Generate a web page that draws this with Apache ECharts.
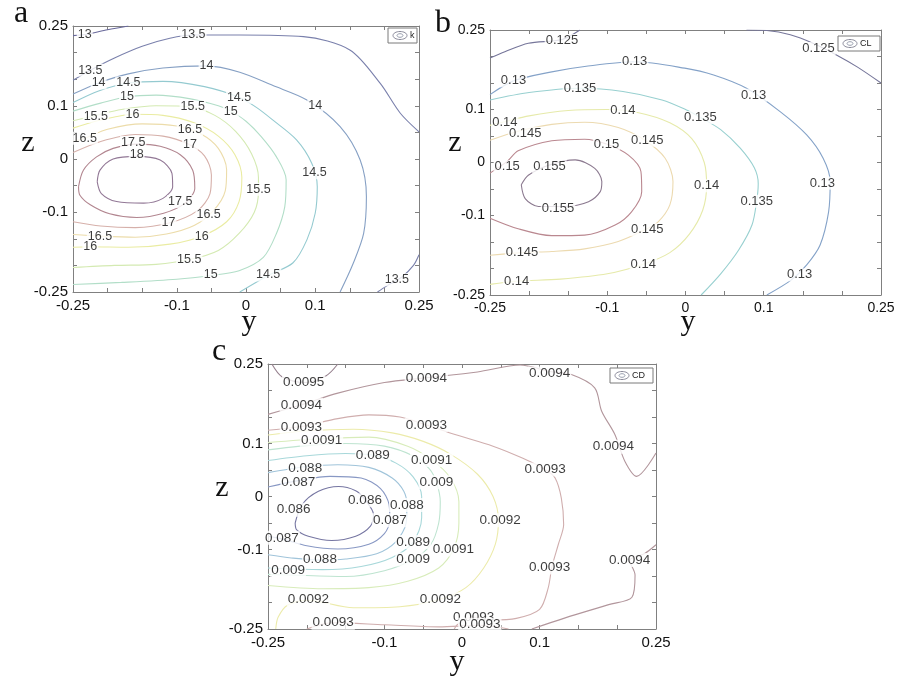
<!DOCTYPE html>
<html>
<head>
<meta charset="utf-8">
<title>k / CL / CD contours</title>
<script src="https://cdn.jsdelivr.net/npm/echarts/dist/echarts.min.js"></script>
<style>
  html, body { margin: 0; padding: 0; background: #fff; }
  #main { width: 901px; height: 680px; }
</style>
</head>
<body>
<div id="main"></div>
<script>
// contour lines: [level, [[y, z], ...]]
const kContours = [
  [13,   [[-0.25,0.232],[-0.232,0.234],[-0.2,0.243],[-0.17,0.25]]],
  [13.5, [[-0.25,0.148],[-0.225,0.167],[-0.19,0.19],[-0.15,0.212],[-0.11,0.227],[-0.076,0.233],[-0.009,0.233],[0.083,0.23],[0.15,0.205],[0.194,0.142],[0.223,0.086],[0.25,0.051]]],
  [13.5, [[0.19,-0.25],[0.203,-0.239],[0.225,-0.222],[0.242,-0.2],[0.25,-0.18]]],
  [14,   [[-0.25,0.122],[-0.213,0.143],[-0.17,0.16],[-0.12,0.171],[-0.057,0.175],[-0.009,0.163],[0.039,0.138],[0.088,0.111],[0.136,0.061],[0.165,-0.002],[0.174,-0.071],[0.17,-0.14],[0.155,-0.196],[0.136,-0.25]]],
  [14.5, [[-0.25,0.106],[-0.213,0.128],[-0.17,0.143],[-0.12,0.146],[-0.06,0.136],[-0.01,0.116],[0.015,0.097],[0.039,0.073],[0.073,0.036],[0.095,-0.008],[0.103,-0.052],[0.1,-0.102],[0.088,-0.152],[0.068,-0.195],[0.032,-0.219],[-0.009,-0.25]]],
  [15,   [[-0.25,0.09],[-0.21,0.105],[-0.172,0.117],[-0.13,0.12],[-0.08,0.113],[-0.04,0.1],[-0.022,0.09],[0,0.071],[0.022,0.042],[0.044,0.004],[0.058,-0.039],[0.056,-0.09],[0.044,-0.14],[0.025,-0.185],[-0.01,-0.21],[-0.051,-0.219],[-0.1,-0.226],[-0.18,-0.232],[-0.25,-0.236]]],
  [15.5, [[-0.25,0.072],[-0.217,0.082],[-0.18,0.093],[-0.13,0.1],[-0.08,0.098],[-0.045,0.082],[-0.015,0.052],[0.008,0.01],[0.018,-0.035],[0.018,-0.06],[0.012,-0.1],[-0.01,-0.14],[-0.04,-0.172],[-0.081,-0.189],[-0.13,-0.198],[-0.19,-0.2],[-0.25,-0.204]]],
  [16,   [[-0.25,0.058],[-0.22,0.07],[-0.19,0.079],[-0.164,0.084],[-0.12,0.082],[-0.075,0.068],[-0.04,0.043],[-0.016,0.008],[-0.006,-0.035],[-0.01,-0.08],[-0.028,-0.118],[-0.064,-0.145],[-0.11,-0.16],[-0.17,-0.166],[-0.225,-0.165],[-0.25,-0.166]]],
  [16.5, [[-0.25,0.033],[-0.233,0.039],[-0.2,0.056],[-0.15,0.066],[-0.1,0.062],[-0.065,0.047],[-0.04,0.02],[-0.028,-0.02],[-0.03,-0.06],[-0.047,-0.097],[-0.075,-0.125],[-0.115,-0.141],[-0.16,-0.147],[-0.211,-0.145],[-0.25,-0.142]]],
  [17,   [[-0.25,0.012],[-0.21,0.033],[-0.16,0.046],[-0.12,0.043],[-0.085,0.029],[-0.06,0.006],[-0.05,-0.03],[-0.052,-0.065],[-0.07,-0.097],[-0.11,-0.12],[-0.16,-0.129],[-0.21,-0.126],[-0.25,-0.118]]],
  [17.5, [[-0.242,-0.052],[-0.235,-0.021],[-0.216,0.004],[-0.192,0.02],[-0.158,0.028],[-0.124,0.024],[-0.095,0.008],[-0.077,-0.021],[-0.074,-0.055],[-0.088,-0.083],[-0.119,-0.102],[-0.158,-0.11],[-0.197,-0.103],[-0.225,-0.086],[-0.24,-0.068],[-0.242,-0.052]]],
  [18,   [[-0.215,-0.043],[-0.211,-0.021],[-0.192,0],[-0.158,0.005],[-0.124,-0.002],[-0.107,-0.027],[-0.106,-0.052],[-0.12,-0.074],[-0.148,-0.083],[-0.187,-0.08],[-0.209,-0.065],[-0.215,-0.043]]]
];
// inline contour labels: [text, y, z]
const kLabels = [
  ['13',-0.233,0.233],['13.5',-0.076,0.233],['13.5',-0.225,0.167],['14',-0.057,0.175],
  ['14',-0.213,0.143],['14.5',-0.170,0.143],['15',-0.172,0.117],['14.5',-0.010,0.116],
  ['15.5',-0.077,0.098],['15',-0.022,0.090],['14',0.100,0.100],['15.5',-0.217,0.080],
  ['16',-0.164,0.083],['16.5',-0.081,0.055],['16.5',-0.233,0.039],['17.5',-0.163,0.031],
  ['17',-0.081,0.028],['18',-0.158,0.008],['14.5',0.099,-0.026],['15.5',0.018,-0.057],
  ['17.5',-0.095,-0.080],['16.5',-0.054,-0.105],['17',-0.112,-0.120],['16.5',-0.211,-0.145],
  ['16',-0.064,-0.145],['16',-0.225,-0.165],['15.5',-0.082,-0.189],['15',-0.051,-0.218],
  ['14.5',0.032,-0.218],['13.5',0.218,-0.227]
];

const clContours = [
  [0.125, [[-0.25,0.197],[-0.231,0.209],[-0.201,0.225],[-0.158,0.232],[-0.135,0.25]]],
  [0.125, [[0.078,0.25],[0.104,0.249],[0.134,0.241],[0.163,0.225],[0.193,0.203],[0.22,0.18],[0.25,0.15]]],
  [0.13,  [[-0.25,0.128],[-0.22,0.154],[-0.171,0.171],[-0.129,0.181],[-0.065,0.19],[-0.001,0.178],[0.036,0.165],[0.078,0.14],[0.121,0.096],[0.155,0.052],[0.176,0.008],[0.185,-0.036],[0.183,-0.093],[0.172,-0.156],[0.155,-0.193],[0.135,-0.222],[0.104,-0.25]]],
  [0.135, [[-0.25,0.118],[-0.2,0.132],[-0.135,0.14],[-0.08,0.134],[-0.03,0.118],[0,0.1],[0.019,0.085],[0.045,0.062],[0.07,0.027],[0.088,-0.01],[0.093,-0.04],[0.091,-0.073],[0.085,-0.118],[0.068,-0.165],[0.045,-0.21],[0.02,-0.25]]],
  [0.14,  [[-0.25,0.07],[-0.231,0.077],[-0.2,0.088],[-0.15,0.098],[-0.1,0.1],[-0.06,0.094],[-0.02,0.075],[0.008,0.045],[0.024,0],[0.027,-0.044],[0.022,-0.09],[0.005,-0.135],[-0.02,-0.17],[-0.054,-0.192],[-0.1,-0.21],[-0.16,-0.22],[-0.216,-0.224],[-0.25,-0.23]]],
  [0.145, [[-0.25,0.042],[-0.214,0.059],[-0.171,0.072],[-0.129,0.076],[-0.086,0.066],[-0.052,0.042],[-0.026,0.008],[-0.016,-0.036],[-0.02,-0.08],[-0.035,-0.112],[-0.052,-0.127],[-0.086,-0.149],[-0.129,-0.163],[-0.171,-0.168],[-0.21,-0.17],[-0.25,-0.175]]],
  [0.15,  [[-0.25,-0.02],[-0.228,0.002],[-0.214,0.022],[-0.171,0.041],[-0.129,0.044],[-0.101,0.035],[-0.073,0.014],[-0.057,-0.017],[-0.056,-0.055],[-0.069,-0.093],[-0.09,-0.118],[-0.129,-0.137],[-0.171,-0.138],[-0.214,-0.125],[-0.25,-0.105]]],
  [0.155, [[-0.21,-0.042],[-0.201,-0.024],[-0.175,-0.005],[-0.141,0.005],[-0.116,-0.011],[-0.107,-0.036],[-0.109,-0.055],[-0.124,-0.074],[-0.154,-0.083],[-0.188,-0.083],[-0.205,-0.068],[-0.21,-0.042]]]
];
const clLabels = [
  ['0.125',-0.158,0.230],['0.125',0.170,0.215],['0.13',-0.065,0.190],['0.13',-0.220,0.154],
  ['0.135',-0.135,0.140],['0.13',0.087,0.127],['0.14',-0.080,0.098],['0.135',0.019,0.085],
  ['0.14',-0.231,0.075],['0.145',-0.205,0.055],['0.15',-0.101,0.035],['0.145',-0.049,0.042],
  ['0.15',-0.228,-0.008],['0.155',-0.174,-0.008],['0.14',0.027,-0.044],['0.13',0.175,-0.039],
  ['0.135',0.091,-0.073],['0.155',-0.163,-0.087],['0.145',-0.049,-0.127],['0.145',-0.209,-0.170],
  ['0.14',-0.054,-0.192],['0.13',0.146,-0.212],['0.14',-0.216,-0.224]
];

const cdContours = [
  [0.0086, [[-0.215,-0.05],[-0.206,-0.015],[-0.185,0.01],[-0.159,0.019],[-0.137,0.011],[-0.125,-0.006],[-0.114,-0.034],[-0.118,-0.056],[-0.137,-0.075],[-0.168,-0.083],[-0.198,-0.075],[-0.213,-0.063],[-0.215,-0.05]]],
  [0.0087, [[-0.25,0.018],[-0.211,0.03],[-0.17,0.038],[-0.13,0.035],[-0.105,0.015],[-0.094,-0.015],[-0.093,-0.045],[-0.1,-0.07],[-0.12,-0.09],[-0.16,-0.099],[-0.2,-0.093],[-0.232,-0.08],[-0.25,-0.075]]],
  [0.0088, [[-0.25,0.045],[-0.202,0.056],[-0.16,0.06],[-0.12,0.055],[-0.09,0.035],[-0.075,0.01],[-0.071,-0.016],[-0.072,-0.05],[-0.085,-0.085],[-0.11,-0.108],[-0.15,-0.118],[-0.183,-0.12],[-0.22,-0.116],[-0.25,-0.11]]],
  [0.0089, [[-0.25,0.068],[-0.2,0.077],[-0.15,0.081],[-0.115,0.078],[-0.085,0.063],[-0.063,0.037],[-0.052,0],[-0.052,-0.04],[-0.063,-0.086],[-0.09,-0.115],[-0.13,-0.132],[-0.18,-0.138],[-0.25,-0.135]]],
  [0.009,  [[-0.25,0.088],[-0.2,0.096],[-0.15,0.1],[-0.1,0.095],[-0.062,0.076],[-0.042,0.052],[-0.033,0.027],[-0.028,-0.01],[-0.03,-0.05],[-0.04,-0.09],[-0.063,-0.119],[-0.1,-0.14],[-0.15,-0.151],[-0.224,-0.148],[-0.25,-0.147]]],
  [0.0091, [[-0.25,0.102],[-0.181,0.109],[-0.12,0.112],[-0.07,0.095],[-0.039,0.069],[-0.015,0.035],[-0.004,-0.01],[-0.004,-0.05],[-0.011,-0.1],[-0.03,-0.135],[-0.07,-0.16],[-0.12,-0.172],[-0.18,-0.174],[-0.25,-0.168]]],
  [0.0092, [[-0.25,0.116],[-0.2,0.124],[-0.14,0.127],[-0.09,0.12],[-0.05,0.104],[-0.015,0.08],[0.02,0.042],[0.04,0],[0.047,-0.045],[0.043,-0.09],[0.028,-0.135],[0.005,-0.172],[-0.028,-0.194],[-0.08,-0.208],[-0.14,-0.21],[-0.198,-0.196],[-0.225,-0.205],[-0.237,-0.228],[-0.24,-0.25]]],
  [0.0093, [[-0.25,0.125],[-0.207,0.132],[-0.16,0.147],[-0.12,0.154],[-0.08,0.15],[-0.046,0.135],[-0.009,0.117],[0.04,0.095],[0.077,0.073],[0.107,0.051],[0.12,0.035],[0.128,-0.003],[0.131,-0.053],[0.124,-0.091],[0.116,-0.132],[0.111,-0.173],[0.1,-0.213],[0.07,-0.23],[0.038,-0.233],[0.015,-0.228],[-0.005,-0.24],[-0.01,-0.25]]],
  [0.0093, [[-0.2,-0.25],[-0.166,-0.238],[-0.1,-0.242],[-0.03,-0.246],[0.023,-0.243],[0.06,-0.25]]],
  [0.0094, [[-0.25,0.155],[-0.207,0.173],[-0.16,0.195],[-0.1,0.215],[-0.046,0.224],[0.02,0.235],[0.075,0.248],[0.113,0.236],[0.141,0.23],[0.171,0.205],[0.18,0.161],[0.197,0.117],[0.21,0.066],[0.225,0.038],[0.25,0.082]]],
  [0.0094, [[0.09,-0.25],[0.133,-0.229],[0.189,-0.204],[0.219,-0.19],[0.223,-0.148],[0.216,-0.121],[0.236,-0.107],[0.25,-0.091]]],
  [0.0095, [[-0.245,0.25],[-0.232,0.226],[-0.204,0.215],[-0.175,0.228],[-0.16,0.25]]]
];
const cdLabels = [
  ['0.0095',-0.204,0.215],['0.0094',-0.046,0.223],['0.0094',0.113,0.232],['0.0094',-0.207,0.173],
  ['0.0093',-0.207,0.130],['0.0093',-0.046,0.135],['0.0091',-0.181,0.107],['0.0094',0.195,0.094],
  ['0.089',-0.115,0.078],['0.0091',-0.039,0.069],['0.0093',0.107,0.051],['0.088',-0.202,0.054],
  ['0.087',-0.211,0.027],['0.009',-0.033,0.027],['0.086',-0.125,-0.007],['0.088',-0.071,-0.016],
  ['0.086',-0.217,-0.025],['0.087',-0.093,-0.045],['0.0092',0.049,-0.045],['0.087',-0.232,-0.078],
  ['0.089',-0.063,-0.086],['0.0091',-0.011,-0.100],['0.088',-0.183,-0.119],['0.009',-0.063,-0.119],
  ['0.0094',0.216,-0.120],['0.0093',0.113,-0.134],['0.009',-0.224,-0.140],['0.0092',-0.198,-0.194],
  ['0.0092',-0.028,-0.194],['0.0093',-0.166,-0.238],['0.0093',0.015,-0.227],['0.0093',0.023,-0.242]
];

const tickShown = [-0.25, -0.1, 0, 0.1, 0.25];

// line colours per level (faded jet-like map)
const kColors = {13:'#68689a',13.5:'#7a80ac',14:'#86a0c4',14.5:'#94cad0',15:'#b2dec8',15.5:'#d4eab2',16:'#eaeca2',16.5:'#ecdcaa',17:'#d6b0aa',17.5:'#b28690',18:'#927896'};
const clColors = {0.125:'#76769a',0.13:'#84a2c8',0.135:'#98d0d0',0.14:'#e6eaaa',0.145:'#ecdab0',0.15:'#ba8890',0.155:'#8c7a90'};
const cdColors = {0.0086:'#7676a2',0.0087:'#8898c4',0.0088:'#a0c4da',0.0089:'#a8d8da',0.009:'#bee4d0',0.0091:'#d8ecba',0.0092:'#ecebaa',0.0093:'#d0aeae',0.0094:'#b2969c',0.0095:'#96808e'};

const SANS = '"Liberation Sans", Arial, sans-serif';
const SERIF = '"Liberation Serif", "Times New Roman", serif';
const FRAME = '#808080';

const panels = [
  { grid: {left: 73, top: 26, width: 346, height: 266}, contours: kContours, labels: kLabels, colors: kColors, labelSize: 12.5, tickSize: 15 },
  { grid: {left: 490, top: 30, width: 391, height: 265}, contours: clContours, labels: clLabels, colors: clColors, labelSize: 13, tickSize: 14 },
  { grid: {left: 268, top: 364, width: 388, height: 265}, contours: cdContours, labels: cdLabels, colors: cdColors, labelSize: 13.5, tickSize: 15 }
];

function tickFmt(v) {
  for (const t of tickShown) {
    if (Math.abs(v - t) < 1e-6) return String(t);
  }
  return '';
}

const grids = [], xAxes = [], yAxes = [], series = [];

panels.forEach(function (p, i) {
  grids.push(Object.assign({ outerBoundsMode: 'none', containLabel: false }, p.grid));

  const common = {
    gridIndex: i, type: 'value', min: -0.25, max: 0.25, interval: 0.05,
    axisLine: { show: true, onZero: false, lineStyle: { color: FRAME, width: 1 } },
    axisTick: { show: true, inside: true, length: 4, lineStyle: { color: FRAME } },
    splitLine: { show: false }
  };
  const shownLabel = { show: true, formatter: tickFmt, fontSize: p.tickSize, color: '#111', fontFamily: SANS, margin: 6 };

  xAxes.push(Object.assign({}, common, { position: 'bottom', axisLabel: shownLabel }));
  xAxes.push(Object.assign({}, common, { position: 'top', axisLabel: { show: false } }));
  yAxes.push(Object.assign({}, common, { position: 'left', axisLabel: Object.assign({}, shownLabel, { margin: 5 }) }));
  yAxes.push(Object.assign({}, common, { position: 'right', axisLabel: { show: false } }));

  p.contours.forEach(function (c) {
    series.push({
      type: 'line',
      xAxisIndex: 2 * i,
      yAxisIndex: 2 * i,
      data: c[1],
      smooth: 0.3,
      symbol: 'none',
      silent: true,
      clip: true,
      z: 2,
      lineStyle: { color: p.colors[c[0]], width: 1.1 }
    });
  });

  series.push({
    type: 'scatter',
    xAxisIndex: 2 * i,
    yAxisIndex: 2 * i,
    symbol: 'circle',
    symbolSize: 1,
    itemStyle: { color: '#fff' },
    silent: true,
    z: 5,
    data: p.labels.map(function (l) { return { name: l[0], value: [l[1], l[2]] }; }),
    label: {
      show: true, position: 'inside', formatter: '{b}',
      fontSize: p.labelSize, fontFamily: SANS, color: '#0a0a0a',
      backgroundColor: '#fff', padding: [0, 1]
    }
  });
});

function txt(x, y, text, font) {
  return { type: 'text', x: x, y: y, silent: true, z: 10,
    style: { text: text, font: font, fill: '#111', textAlign: 'center', textVerticalAlign: 'middle', align: 'center', verticalAlign: 'middle' } };
}

function legendBox(x, y, w, name) {
  const h = 15, cx = x + 12, cy = y + h / 2;
  return [
    { type: 'rect', shape: { x: x, y: y, width: w, height: h }, style: { fill: '#fff', stroke: '#7a7a7a', lineWidth: 1 }, z: 10, silent: true },
    { type: 'ellipse', shape: { cx: cx, cy: cy, rx: 7, ry: 4 }, style: { fill: 'none', stroke: '#8a8a9a', lineWidth: 1 }, z: 11, silent: true },
    { type: 'ellipse', shape: { cx: cx, cy: cy, rx: 3, ry: 1.8 }, style: { fill: 'none', stroke: '#9aa0b0', lineWidth: 1 }, z: 11, silent: true },
    { type: 'text', x: cx + 10, y: cy, z: 11, silent: true,
      style: { text: name, font: '9px ' + SANS, fill: '#222', textAlign: 'left', textVerticalAlign: 'middle', align: 'left', verticalAlign: 'middle' } }
  ];
}

const graphics = [
  txt(21, 14, 'a', '32px ' + SERIF),
  txt(443, 24, 'b', '32px ' + SERIF),
  txt(219, 352, 'c', '32px ' + SERIF),
  txt(28, 143, 'z', '30px ' + SERIF),
  txt(249, 322, 'y', '30px ' + SERIF),
  txt(455, 143, 'z', '30px ' + SERIF),
  txt(688, 322, 'y', '30px ' + SERIF),
  txt(222, 488, 'z', '30px ' + SERIF),
  txt(457, 662, 'y', '30px ' + SERIF)
].concat(legendBox(388, 28, 29, 'k'), legendBox(838, 36, 42, 'CL'), legendBox(610, 368, 43, 'CD'));

const chart = echarts.init(document.getElementById('main'), null, { renderer: 'canvas' });
chart.setOption({
  animation: false,
  backgroundColor: '#fff',
  grid: grids,
  xAxis: xAxes,
  yAxis: yAxes,
  series: series,
  graphic: graphics
});
</script>
</body>
</html>
